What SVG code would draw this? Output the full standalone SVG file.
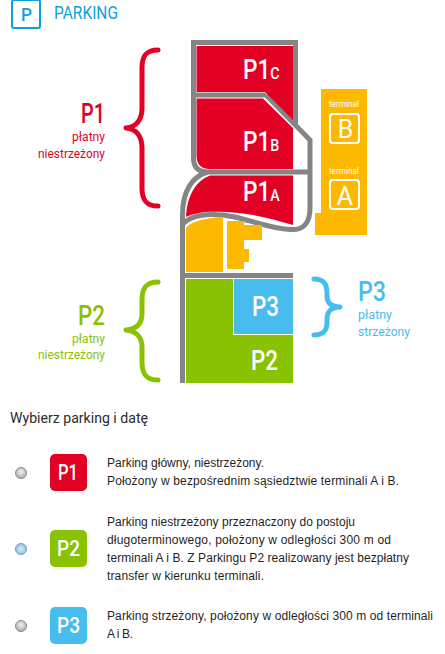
<svg xmlns="http://www.w3.org/2000/svg" width="445" height="654" viewBox="0 0 445 654">
<style>
text{font-family:"Roboto","Noto Sans","Liberation Sans",sans-serif}
.d{font-family:"Liberation Sans",Arial,sans-serif;font-size:12px;fill:#1f1f1f}
.road{fill:none;stroke:#858585;stroke-width:5}
.big{font-size:27px;font-weight:500}
.sub{font-size:17px}
.sm{font-size:12.500px}
.brace{fill:none;stroke-width:5;stroke-linecap:round;stroke-linejoin:round}
.lbl{font-size:22px;fill:#fff;font-weight:500}
.term{fill:none;stroke:#fff;stroke-width:2}
</style>
<defs>
<radialGradient id="rg" cx=".5" cy=".4" r=".6"><stop offset="0" stop-color="#f2f2f2"/><stop offset="1" stop-color="#a8a8a8"/></radialGradient>
<radialGradient id="rb" cx=".5" cy=".5" r=".6"><stop offset="0" stop-color="#d8ecfb"/><stop offset="1" stop-color="#86b8dc"/></radialGradient>
</defs>
<g id="header">
<rect x="12" y="0" width="28" height="28" rx="2" fill="none" stroke="#0f9fdc" stroke-width="2"/>
<text x="21" y="21" font-size="19" font-weight="500" fill="#0f9fdc" textLength="11" lengthAdjust="spacingAndGlyphs">P</text>
<text x="54" y="19" font-size="18" fill="#0f9fdc" textLength="64" lengthAdjust="spacingAndGlyphs">PARKING</text>
</g>
<g id="connectors">
<path class="road" d="M193.500 120V42.500H295.500V124M193.500 42V158Q193.500 172 208 172H312.500M266 95H193.500M266 95L310 140V208Q310 231 290 229.500C262 228 240 214 212 214.500C198 215 188 218 183 224M208 172C193 176 182.500 190 182.500 215V383"/>
<path class="road" d="M183 275.500H293"/>
</g>
<g id="P1C">
<path d="M196.500 46H293V120L265 92H196.500Z" fill="#e20025"/>
<text transform="translate(243 79) scale(.84 1)" class="big" fill="#fff">P1<tspan class="sub">C</tspan></text>
</g>
<g id="P1B">
<path d="M196.500 98.500H263L293 128V169H208Q196.500 168 196.500 155Z" fill="#e20025"/>
<text transform="translate(243 151) scale(.84 1)" class="big" fill="#fff">P1<tspan class="sub">B</tspan></text>
</g>
<g id="P1A">
<path d="M210 175.500H293V225C270 218 250 213 225 212C205 211 195 213 186 217C187 197 195 181 210 175.500Z" fill="#e20025"/>
<text transform="translate(243 201) scale(.84 1)" class="big" fill="#fff">P1<tspan class="sub">A</tspan></text>
</g>
<g id="terminals">
<path d="M321 89H367V235H315V213H321Z" fill="#fdb900"/>
<text x="329" y="107" font-size="9" fill="#fff" textLength="30" lengthAdjust="spacingAndGlyphs">terminal</text>
<rect class="term" x="330" y="114" width="29" height="29" rx="3"/>
<text x="345.500" y="138" font-size="25" fill="#fff" text-anchor="middle">B</text>
<text x="329" y="174" font-size="9" fill="#fff" textLength="30" lengthAdjust="spacingAndGlyphs">terminal</text>
<rect class="term" x="330" y="180" width="29" height="29" rx="3"/>
<text x="345" y="205" font-size="25" fill="#fff" text-anchor="middle">A</text>
</g>
<g id="buildings">
<path d="M186 228Q192 219 223 217V272H186Z" fill="#fdb900"/>
<path d="M227 221H244V225H262V240H244V249H249V262H244V269H227Z" fill="#fdb900"/>
</g>
<g id="P2">
<rect x="186" y="279" width="107" height="104" fill="#89c200"/>
<text x="251" y="370" class="big" fill="#fff" textLength="27" lengthAdjust="spacingAndGlyphs">P2</text>
</g>
<g id="P3">
<rect x="233.500" y="278.500" width="60" height="56" fill="#48bded" stroke="#fff"/>
<text x="252" y="316" class="big" fill="#fff" textLength="27" lengthAdjust="spacingAndGlyphs">P3</text>
</g>
<g id="legend-P1" fill="#e20025">
<path class="brace" stroke="#e20025" d="M158 50C146 50 142 56 142 68V108C142 120 136 127 126 128C136 129 142 136 142 148V188C142 200 146 206 158 206"/>
<text x="81" y="123" class="big" textLength="24" lengthAdjust="spacingAndGlyphs">P1</text>
<text x="72" y="141" class="sm" textLength="33" lengthAdjust="spacingAndGlyphs">płatny</text>
<text x="38" y="158" class="sm" textLength="67" lengthAdjust="spacingAndGlyphs">niestrzeżony</text>
</g>
<g id="legend-P2" fill="#89c200">
<path class="brace" stroke="#89c200" d="M158 282C146 282 142 288 142 300V314C142 324 136 329 126 330C136 331 142 337 142 347V362C142 374 146 380 158 380"/>
<text x="78" y="325" class="big" textLength="27" lengthAdjust="spacingAndGlyphs">P2</text>
<text x="72" y="343" class="sm" textLength="33" lengthAdjust="spacingAndGlyphs">płatny</text>
<text x="38" y="359" class="sm" textLength="67" lengthAdjust="spacingAndGlyphs">niestrzeżony</text>
</g>
<g id="legend-P3" fill="#48bded">
<path class="brace" stroke="#48bded" d="M314 279C324 279 327 284 327 294V296C327 304 332 306.500 340 307C332 307.500 327 310 327 320V322C327 330 324 335 314 335"/>
<text x="358" y="301" class="big" textLength="28" lengthAdjust="spacingAndGlyphs">P3</text>
<text x="358" y="319" class="sm" textLength="34" lengthAdjust="spacingAndGlyphs">płatny</text>
<text x="358" y="336" class="sm" textLength="52" lengthAdjust="spacingAndGlyphs">strzeżony</text>
</g>
<text x="10" y="423" font-size="14" fill="#2b2b2b" textLength="138" lengthAdjust="spacingAndGlyphs">Wybierz parking i datę</text>
<g id="option-P1">
<circle cx="21" cy="473" r="5.500" fill="url(#rg)" stroke="#8c8c8c"/>
<rect x="50" y="454" width="37" height="37" rx="5" fill="#e20025"/>
<text x="58" y="480" class="lbl" textLength="20" lengthAdjust="spacingAndGlyphs">P1</text>
<text class="d" x="107" y="467" textLength="157">Parking główny, niestrzeżony.</text>
<text class="d" x="107" y="485" textLength="292">Położony w bezpośrednim sąsiedztwie terminali A i B.</text>
</g>
<g id="option-P2">
<circle cx="21" cy="549" r="5.500" fill="url(#rb)" stroke="#6f9fc4"/>
<rect x="50" y="530" width="37" height="37" rx="5" fill="#89c200"/>
<text x="57" y="556" class="lbl" textLength="23" lengthAdjust="spacingAndGlyphs">P2</text>
<text class="d" x="107" y="526" textLength="248">Parking niestrzeżony przeznaczony do postoju</text>
<text class="d" x="107" y="544" textLength="284">długoterminowego, położony w odległości 300 m od</text>
<text class="d" x="107" y="562" textLength="302">terminali A i B. Z Parkingu P2 realizowany jest bezpłatny</text>
<text class="d" x="107" y="580" textLength="157">transfer w kierunku terminali.</text>
</g>
<g id="option-P3">
<circle cx="21" cy="626" r="5.500" fill="url(#rg)" stroke="#8c8c8c"/>
<rect x="50" y="607" width="37" height="37" rx="5" fill="#48bded"/>
<text x="57" y="633" class="lbl" textLength="23" lengthAdjust="spacingAndGlyphs">P3</text>
<text class="d" x="107" y="620" textLength="326">Parking strzeżony, położony w odległości 300 m od terminali</text>
<text class="d" x="107" y="638" textLength="26">A i B.</text>
</g>
</svg>
